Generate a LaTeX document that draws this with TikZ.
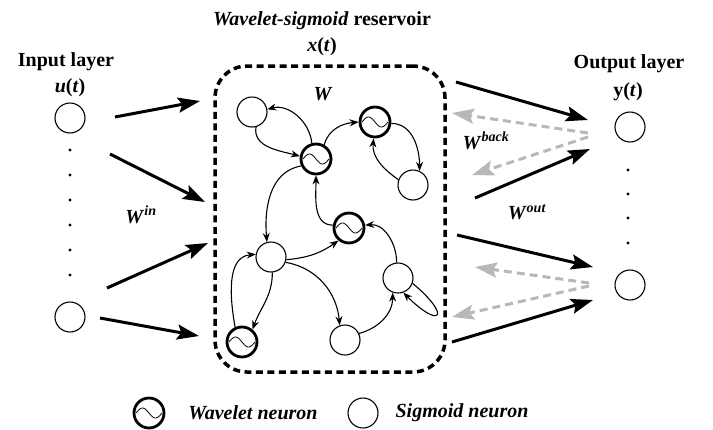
\documentclass[tikz,border=0pt]{standalone}
\usepackage{fontspec}
\setmainfont{Liberation Serif}
\usetikzlibrary{arrows.meta}

\begin{document}
\begin{tikzpicture}[x=1pt, y=-1pt, >={Stealth[length=9pt,width=7pt]}, font=\fontsize{20}{24}\selectfont\bfseries]

        \def\siz{30pt}              % neuronsize
        \def\wth{1.1pt}             % width of the reservoir connections
        \tikzstyle{neuron}=[circle,draw=black,line width=1.1pt,minimum size=\siz,inner sep=0pt]
        \tikzstyle{wavelet}=[neuron,line width=2.8pt,
            path picture={\draw[line width=0.8pt,shift={(path picture bounding box.center)}]
                plot[domain=-13:13,samples=40,smooth] (\x,{5*sin(\x*180/13)});}]
        \tikzstyle{weight}=[line width=3pt,arrows={-Stealth[length=22pt,width=15pt,inset=4pt]}]
        \tikzstyle{feedback}=[weight,draw=black!28,dash pattern=on 8pt off 5pt]
        \tikzstyle{conn}=[->,line width=\wth]

        \useasboundingbox (0,0) rectangle (713,429);

        % Titles of the layers
        \node (rl) at (322,21) {\textit{Wavelet-sigmoid} reservoir};
        \node (rx) at (322,47) {\textit{x}(\textit{t})};
        \node (rw) at (323,94) {\textit{W}};
        \node (il) at (66,62) {Input layer};
        \node (iu) at (70,88) {\textit{u}(\textit{t})};
        \node (ol) at (629,64) {Output layer};
        \node (oy) at (628,92) {y(\textit{t})};

        % Draw the input and output neurons
        \node[neuron] (Il-1) at (70,118) {};
        \node[neuron] (Il-2) at (70,317) {};
        \node[neuron] (Ol-1) at (630,127) {};
        \node[neuron] (Ol-2) at (630,285) {};
        \foreach \yd in {150,175,...,275}
            \fill (70,\yd) circle (1.7pt);
        \foreach \yd in {170,194,218,243}
            \fill (628,\yd) circle (1.7pt);

        % Draw the reservoir
        \node[draw,line width=3.5pt,dash pattern=on 7pt off 4.5pt,rounded corners=32pt,
            minimum width=230pt,minimum height=306pt] (res) at (330,219) {};
        \foreach \xn/\xx/\yy in {1/316/159,2/375/122,3/349/228,4/242/342}
            \node[wavelet] (Rw-\xn) at (\xx,\yy) {};
        \foreach \xn/\xx/\yy in {1/252/112,2/413/185,3/271/257,4/345/340,5/398/278}
            \node[neuron] (Rs-\xn) at (\xx,\yy) {};

        % Connections inside the reservoir
        \draw[conn] (Rs-1.-75) to[out=-100,in=165] (Rw-1.170);
        \draw[conn] (Rw-1.105) to[out=95,in=15] (Rs-1.10);
        \draw[conn] (Rw-1.60) to[out=75,in=185] (Rw-2.180);
        \draw[conn] (Rw-2.-5) to[out=0,in=90] (Rs-2.65);
        \draw[conn] (Rs-2.160) to[out=145,in=-95] (Rw-2.-95);
        \draw[conn] (Rw-1.205) to[out=190,in=95] (Rs-3.105);
        \draw[conn] (Rw-3.170) to[out=180,in=-90] (Rw-1.-90);
        \draw[conn] (Rs-3.-10) to[out=5,in=-145] (Rw-3.-130);
        \draw[conn] (Rs-3.-85) to[out=-90,in=70] (Rw-4.50);
        \draw[conn] (Rw-4.115) to[out=100,in=185] (Rs-3.170);
        \draw[conn] (Rs-3.-20) to[out=-10,in=95] (Rs-4.110);
        \draw[conn] (Rs-4.25) to[out=15,in=-90] (Rs-5.-110);
        \draw[conn] (Rs-5.95) to[out=90,in=5] (Rw-3.10);
        \draw[conn] (Rs-5.-20) .. controls +(-40:52pt) and +(-45:52pt) .. (Rs-5.-70);

        % Input, output and feedback weights
        \foreach \xn/\sx/\sy/\ex/\ey in {1/115/117/200/101,2/110/154/205/202,3/107/288/208/243,4/100/318/199/336}{
            \coordinate (Wi-\xn s) at (\sx,\sy);
            \coordinate (Wi-\xn e) at (\ex,\ey);
            \draw[weight] (Wi-\xn s) -- (Wi-\xn e);
        }
        \foreach \xn/\sx/\sy/\ex/\ey in {1/456/82/588/120,2/475/198/590/149,3/457/235/593/267,4/452/342/593/300}{
            \coordinate (Wo-\xn s) at (\sx,\sy);
            \coordinate (Wo-\xn e) at (\ex,\ey);
            \draw[weight] (Wo-\xn s) -- (Wo-\xn e);
        }
        \foreach \xn/\sx/\sy/\ex/\ey in {1/588/133/452/113,2/588/137/472/175,3/589/283/475/267,4/589/286/452/317}{
            \coordinate (Wb-\xn s) at (\sx,\sy);
            \coordinate (Wb-\xn e) at (\ex,\ey);
            \draw[feedback] (Wb-\xn s) -- (Wb-\xn e);
        }
        \node (win) at (141,215) {\textit{W}\textsuperscript{\textit{in}}};
        \node (wback) at (486,141) {\textit{W}\textsuperscript{\textit{back}}};
        \node (wout) at (527,212) {\textit{W}\textsuperscript{\textit{out}}};

        % Legend
        \node[wavelet] (lw) at (149,413) {};
        \node[right of=lw, node distance=104pt] (lwt) {\textit{Wavelet neuron}};
        \node[neuron] (ls) at (363,413) {};
        \node[right of=ls, node distance=99pt] (lst) {\textit{Sigmoid neuron}};

\end{tikzpicture}
\end{document}
